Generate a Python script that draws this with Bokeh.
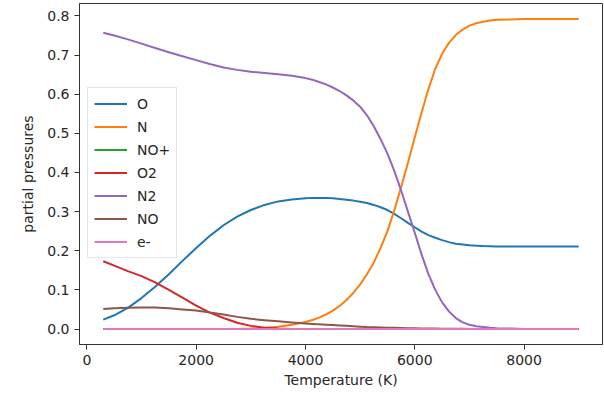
from bokeh.plotting import figure
from bokeh.models import Range1d, FixedTicker, Legend, LegendItem, CustomJSTickFormatter
from bokeh.embed import file_html
from bokeh.resources import INLINE

# Equilibrium composition of air: partial pressures vs temperature
temperature = [300, 500, 750, 1000, 1250, 1500, 1750, 2000, 2250, 2500, 2750, 3000, 3250, 3500, 3750,
               4000, 4125, 4250, 4375, 4500, 4625, 4750, 4875, 5000,
               5125, 5250, 5375, 5500, 5625, 5750, 5875, 6000,
               6125, 6250, 6375, 6500, 6625, 6750, 6875, 7000,
               7125, 7250, 7375, 7500,
               7750, 8000, 8250, 8500, 8750, 9000]

p_O = [0.024, 0.035, 0.054, 0.079, 0.108, 0.140, 0.174, 0.207, 0.238, 0.265, 0.287, 0.304, 0.317, 0.326, 0.331,
       0.334, 0.335, 0.335, 0.335, 0.334, 0.332, 0.330, 0.328, 0.325,
       0.322, 0.317, 0.311, 0.304, 0.294, 0.283, 0.271, 0.260,
       0.249, 0.240, 0.233, 0.227, 0.222, 0.218, 0.216, 0.214,
       0.213, 0.212, 0.2115, 0.211,
       0.211, 0.211, 0.211, 0.211, 0.211, 0.211]

p_N = [0.0, 0.0, 0.0, 0.0, 0.0, 0.0, 0.0, 0.0, 0.0, 0.0, 0.0003, 0.001, 0.003, 0.006, 0.011,
       0.018, 0.023, 0.029, 0.037, 0.047, 0.059, 0.074, 0.092, 0.114,
       0.140, 0.170, 0.207, 0.250, 0.303, 0.362, 0.425, 0.490,
       0.553, 0.613, 0.665, 0.703, 0.731, 0.751, 0.765, 0.775,
       0.781, 0.785, 0.788, 0.790,
       0.791, 0.792, 0.792, 0.792, 0.792, 0.792]

p_NOp = [0.0] * 50

p_O2 = [0.173, 0.162, 0.148, 0.135, 0.119, 0.100, 0.080, 0.060, 0.042, 0.028, 0.016, 0.008, 0.003, 0.001, 0.0003,
        0.0, 0.0, 0.0, 0.0, 0.0, 0.0, 0.0, 0.0, 0.0,
        0.0, 0.0, 0.0, 0.0, 0.0, 0.0, 0.0, 0.0,
        0.0, 0.0, 0.0, 0.0, 0.0, 0.0, 0.0, 0.0,
        0.0, 0.0, 0.0, 0.0,
        0.0, 0.0, 0.0, 0.0, 0.0, 0.0]

p_N2 = [0.757, 0.750, 0.740, 0.729, 0.718, 0.707, 0.697, 0.687, 0.677, 0.668, 0.662, 0.657, 0.654, 0.651, 0.647,
        0.641, 0.637, 0.631, 0.625, 0.617, 0.608, 0.597, 0.584, 0.568,
        0.546, 0.518, 0.485, 0.448, 0.404, 0.354, 0.300, 0.246,
        0.190, 0.140, 0.100, 0.068, 0.045, 0.028, 0.017, 0.011,
        0.007, 0.005, 0.003, 0.002,
        0.001, 0.0, 0.0, 0.0, 0.0, 0.0]

p_NO = [0.051, 0.053, 0.054, 0.055, 0.055, 0.053, 0.050, 0.047, 0.042, 0.037, 0.031, 0.026, 0.0225, 0.0195, 0.0165,
        0.014, 0.013, 0.012, 0.011, 0.010, 0.009, 0.008, 0.007, 0.006,
        0.005, 0.0045, 0.004, 0.0035, 0.003, 0.0025, 0.002, 0.0018,
        0.0015, 0.0012, 0.001, 0.0008, 0.0006, 0.0005, 0.0004, 0.0003,
        0.0002, 0.0002, 0.0001, 0.0001,
        0.0, 0.0, 0.0, 0.0, 0.0, 0.0]

p_e = [0.0] * 50

species = ["O", "N", "NO+", "O2", "N2", "NO", "e-"]
series = [p_O, p_N, p_NOp, p_O2, p_N2, p_NO, p_e]
colors = ["#1f77b4", "#ff7f0e", "#2ca02c", "#d62728", "#9467bd", "#8c564b", "#e377c2"]

x_ticks = [0, 2000, 4000, 6000, 8000]
y_ticks = [0.0, 0.1, 0.2, 0.3, 0.4, 0.5, 0.6, 0.7, 0.8]

FONT = "DejaVu Sans"
TEXT = "#262626"

p = figure(width=604, height=393, output_backend="svg", toolbar_location=None,
           x_range=Range1d(-135, 9435), y_range=Range1d(-0.0396, 0.8316),
           min_border_left=79, min_border_right=2, min_border_top=3, min_border_bottom=49)

p.background_fill_color = "white"
p.border_fill_color = "white"
p.outline_line_color = "#333333"
p.outline_line_width = 1
p.xgrid.visible = False
p.ygrid.visible = False

items = []
for name, ys, col in zip(species, series, colors):
    r = p.line(temperature, ys, line_color=col, line_width=2, line_join="round")
    items.append(LegendItem(label=name, renderers=[r]))

for ax in (p.xaxis[0], p.yaxis[0]):
    ax.axis_line_color = "#333333"
    ax.major_tick_line_color = "#333333"
    ax.major_tick_in = 0
    ax.major_tick_out = 5
    ax.minor_tick_line_color = None
    ax.major_label_text_font = FONT
    ax.major_label_text_font_size = "14px"
    ax.major_label_text_color = TEXT
    ax.axis_label_text_font = FONT
    ax.axis_label_text_font_size = "14px"
    ax.axis_label_text_font_style = "normal"
    ax.axis_label_text_color = TEXT
    ax.major_label_standoff = 5

p.xaxis.ticker = FixedTicker(ticks=x_ticks)
p.yaxis.ticker = FixedTicker(ticks=y_ticks)
p.yaxis.formatter = CustomJSTickFormatter(code="return tick.toFixed(1);")
p.xaxis.formatter = CustomJSTickFormatter(code="return tick.toFixed(0);")
p.xaxis.axis_label = "Temperature (K)"
p.yaxis.axis_label = "partial pressures"
p.xaxis.axis_label_standoff = 4
p.yaxis.axis_label_standoff = 8

legend = Legend(items=items, location=(8, 86))
legend.label_text_font = FONT
legend.label_text_font_size = "14px"
legend.label_text_color = TEXT
legend.glyph_width = 33
legend.glyph_height = 19
legend.label_height = 19
legend.label_standoff = 10
legend.spacing = 4
legend.padding = 6
legend.margin = 0
legend.border_line_color = "#cccccc"
legend.border_line_width = 1
legend.background_fill_alpha = 0.8
p.add_layout(legend, "center")

open("out.html", "w").write(file_html(p, INLINE))
